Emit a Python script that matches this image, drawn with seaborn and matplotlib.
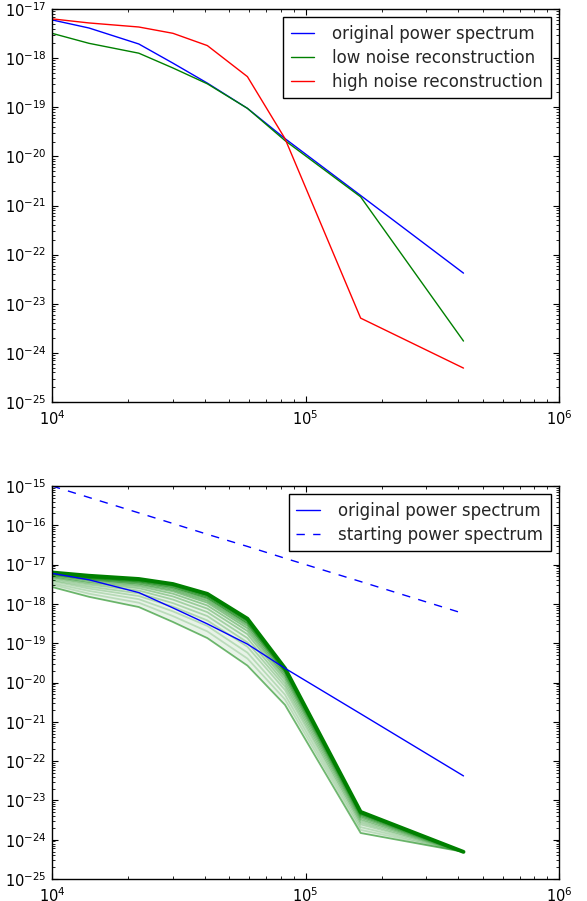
import numpy as np
import pandas as pd
import matplotlib
matplotlib.use("Agg")
import matplotlib.pyplot as plt
import seaborn as sns
from matplotlib.ticker import LogLocator

# ---------------- data ----------------
k = [1.0e4, 1.4e4, 2.2e4, 3.0e4, 4.1e4, 5.9e4, 8.3e4, 1.65e5, 4.2e5]
original = [6.0e-18, 4.1e-18, 1.94e-18, 7.9e-19, 3.1e-19, 9.5e-20, 2.3e-20, 1.6e-21, 4.2e-23]
low_noise = [3.2e-18, 2.0e-18, 1.26e-18, 6.3e-19, 3.0e-19, 9.5e-20, 2.1e-20, 1.5e-21, 1.74e-24]
high_noise = [6.3e-18, 5.2e-18, 4.3e-18, 3.2e-18, 1.8e-18, 4.2e-19, 2.3e-20, 5.1e-24, 4.9e-25]
starting = [1.0e-15, 5.1e-16, 2.07e-16, 1.11e-16, 5.9e-17, 2.9e-17, 1.45e-17, 3.7e-18, 5.7e-19]

# iterations of the reconstruction (log10 of power), first -> nearly final
iterations_log10 = [
    [-17.57, -17.82, -18.08, -18.46, -18.87, -19.57, -20.57, -23.83, -24.31],
    [-17.51, -17.74, -17.97, -18.31, -18.70, -19.39, -20.43, -23.75, -24.31],
    [-17.47, -17.67, -17.88, -18.19, -18.56, -19.24, -20.31, -23.68, -24.31],
    [-17.42, -17.61, -17.80, -18.07, -18.42, -19.09, -20.19, -23.61, -24.31],
    [-17.39, -17.56, -17.73, -17.98, -18.31, -18.98, -20.10, -23.56, -24.31],
    [-17.35, -17.51, -17.66, -17.89, -18.21, -18.87, -20.02, -23.51, -24.31],
    [-17.32, -17.47, -17.60, -17.81, -18.12, -18.77, -19.94, -23.47, -24.31],
    [-17.30, -17.44, -17.55, -17.74, -18.04, -18.69, -19.87, -23.43, -24.31],
    [-17.27, -17.40, -17.51, -17.68, -17.97, -18.62, -19.82, -23.40, -24.31],
    [-17.26, -17.38, -17.48, -17.64, -17.92, -18.56, -19.77, -23.37, -24.31],
    [-17.24, -17.36, -17.45, -17.60, -17.87, -18.51, -19.73, -23.35, -24.31],
    [-17.23, -17.34, -17.43, -17.57, -17.84, -18.48, -19.71, -23.33, -24.31],
    [-17.22, -17.33, -17.41, -17.54, -17.81, -18.44, -19.68, -23.32, -24.31],
    [-17.21, -17.32, -17.39, -17.52, -17.78, -18.42, -19.66, -23.31, -24.31],
    [-17.20, -17.31, -17.38, -17.50, -17.76, -18.39, -19.64, -23.30, -24.31],
]

top_ylim = (1e-25, 1e-17)
bot_ylim = (1e-25, 1e-15)
xlim = (1e4, 1e6)

# ---------------- style ----------------
sns.set_style("ticks")
plt.rcParams.update({
    "font.family": ["DejaVu Sans"],
    "font.size": 12,
    "xtick.direction": "in",
    "ytick.direction": "in",
    "xtick.top": True,
    "ytick.right": True,
    "xtick.major.size": 4,
    "ytick.major.size": 4,
    "xtick.minor.size": 2,
    "ytick.minor.size": 2,
    "xtick.labelsize": 10.5,
    "ytick.labelsize": 10.5,
    "axes.edgecolor": "black",
    "axes.linewidth": 1.0,
    "xtick.color": "black",
    "ytick.color": "black",
    "legend.fontsize": 12,
})

fig = plt.figure(figsize=(5.87, 9.01), dpi=100)
left, right = 52 / 587, 559 / 587
ax1 = fig.add_axes([left, 1 - 402 / 901, right - left, (402 - 9) / 901])
ax2 = fig.add_axes([left, 1 - 879 / 901, right - left, (879 - 486) / 901])

BLUE, GREEN, RED = "#0000ff", "#008000", "#ff0000"


def style_axes(ax, ylim):
    ax.set_xscale("log")
    ax.set_yscale("log")
    ax.set_xlim(*xlim)
    ax.set_ylim(*ylim)
    ax.xaxis.set_major_locator(LogLocator(base=10, numticks=20))
    ax.yaxis.set_major_locator(LogLocator(base=10, numticks=20))
    ax.xaxis.set_minor_locator(LogLocator(base=10, subs=np.arange(2, 10), numticks=100))
    ax.yaxis.set_minor_locator(LogLocator(base=10, subs=np.arange(2, 10), numticks=100))
    ax.tick_params(which="both", direction="in", top=True, right=True)
    ax.tick_params(axis="x", which="major", pad=5)
    ax.tick_params(axis="y", which="major", pad=4)
    for s in ax.spines.values():
        s.set_visible(True)
        s.set_color("black")
    ax.set_xlabel("")
    ax.set_ylabel("")


def make_legend(ax):
    leg = ax.legend(loc="upper right", fancybox=False, frameon=True, edgecolor="black",
                    framealpha=1, borderaxespad=0.5, handlelength=1.4, handletextpad=1.1,
                    borderpad=0.45, labelspacing=0.35)
    leg.get_frame().set_linewidth(1.0)
    return leg


# ---------------- top panel ----------------
sns.lineplot(x=k, y=original, ax=ax1, color=BLUE, lw=1, sort=False, estimator=None,
             label="original power spectrum")
sns.lineplot(x=k, y=low_noise, ax=ax1, color=GREEN, lw=1, sort=False, estimator=None,
             label="low noise reconstruction")
sns.lineplot(x=k, y=high_noise, ax=ax1, color=RED, lw=1, sort=False, estimator=None,
             label="high noise reconstruction")
style_axes(ax1, top_ylim)
make_legend(ax1)

# ---------------- bottom panel ----------------
first_vals = [10 ** v for v in iterations_log10[0]]
ax2.fill_between(k, first_vals, high_noise, color=GREEN, alpha=0.09, lw=0)
n_it = len(iterations_log10)
for i, row in enumerate(iterations_log10):
    vals = [10 ** v for v in row]
    if i == 0:
        alpha = 0.55
    else:
        alpha = 0.18 + 0.6 * (i / n_it) ** 1.5
    sns.lineplot(x=k, y=vals, ax=ax2, color=GREEN, lw=1.3, alpha=alpha, sort=False,
                 estimator=None, legend=False)
sns.lineplot(x=k, y=high_noise, ax=ax2, color=GREEN, lw=2.8, sort=False, estimator=None,
             legend=False)
sns.lineplot(x=k, y=original, ax=ax2, color=BLUE, lw=1, sort=False, estimator=None,
             label="original power spectrum")
sns.lineplot(x=k, y=starting, ax=ax2, color=BLUE, lw=1, sort=False,
             estimator=None, label="starting power spectrum")
ax2.lines[-1].set_dashes((6, 6))
style_axes(ax2, bot_ylim)
make_legend(ax2)

fig.savefig("out.png", dpi=100)
